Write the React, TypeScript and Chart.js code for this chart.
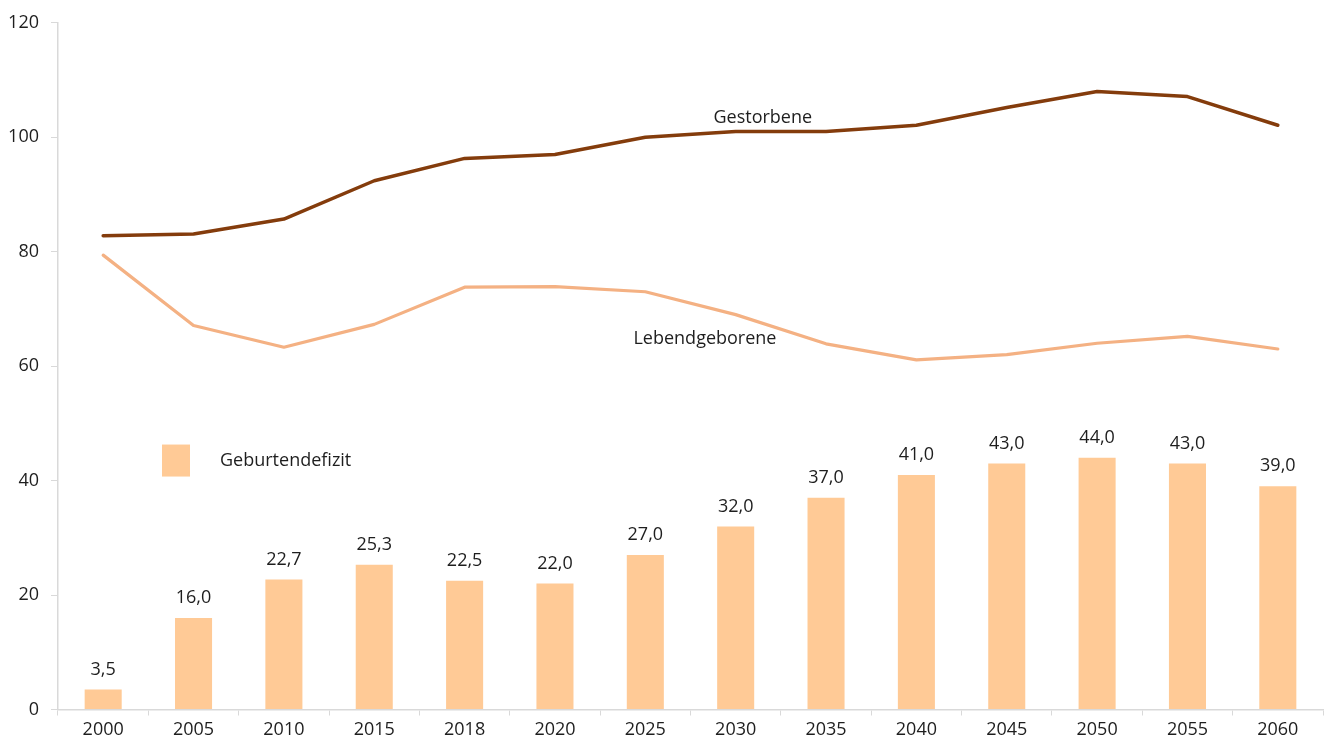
import React, { useEffect, useRef } from "react";
import { Chart, registerables } from "chart.js";

Chart.register(...registerables);

const years = ["2000", "2005", "2010", "2015", "2018", "2020", "2025", "2030", "2035", "2040", "2045", "2050", "2055", "2060"];
const gestorbene = [82.8, 83.1, 85.7, 92.4, 96.3, 97.0, 100.0, 101.0, 101.0, 102.1, 105.2, 108.0, 107.1, 102.1];
const lebendgeborene = [79.4, 67.1, 63.3, 67.3, 73.8, 73.9, 73.0, 69.0, 63.9, 61.1, 62.0, 64.0, 65.2, 63.0];
const geburtendefizit = [3.5, 16.0, 22.7, 25.3, 22.5, 22.0, 27.0, 32.0, 37.0, 41.0, 43.0, 44.0, 43.0, 39.0];
const yTicks = [0, 20, 40, 60, 80, 100, 120];

const FONT = "'Open Sans', 'Noto Sans', sans-serif";
const TEXT = "#1e1e1e";
const AXIS = "#d9d9d9";
const BAR = "#FFCA96";
const DARK = "#843C0C";
const LIGHT = "#F4B183";

const annotations = {
  id: "annotations",
  afterDatasetsDraw(chart: any) {
    const ctx = chart.ctx;
    const xs = chart.scales.x;
    const ys = chart.scales.y;
    ctx.save();
    ctx.font = `18px ${FONT}`;
    ctx.fillStyle = TEXT;
    ctx.textAlign = "center";
    ctx.textBaseline = "middle";
    // bar value labels
    const meta = chart.getDatasetMeta(0);
    meta.data.forEach((el: any, i: number) => {
      const v = geburtendefizit[i];
      ctx.fillText(v.toFixed(1).replace(".", ","), el.x, el.y - 20);
    });
    // series labels
    ctx.fillText(chart.data.datasets[1].label, xs.getPixelForValue(7.3), ys.getPixelForValue(103.3));
    ctx.fillText(chart.data.datasets[2].label, xs.getPixelForValue(6.66), ys.getPixelForValue(64.7));
    // legend
    const area = chart.chartArea;
    const lx = area.left + 104;
    const ly = ys.getPixelForValue(46.3);
    ctx.fillStyle = BAR;
    ctx.fillRect(lx, ly, 28, 32);
    ctx.fillStyle = TEXT;
    ctx.textAlign = "left";
    ctx.fillText(chart.data.datasets[0].label, lx + 58, ly + 16);
    ctx.restore();
  },
};

export default function App() {
  const ref = useRef<HTMLCanvasElement>(null);
  useEffect(() => {
    if (!ref.current) return;
    const chart = new Chart(ref.current, {
      type: "bar",
      data: {
        labels: years,
        datasets: [
          {
            type: "bar",
            label: "Geburtendefizit",
            data: geburtendefizit,
            backgroundColor: BAR,
            barPercentage: 0.41,
            categoryPercentage: 1,
            order: 3,
          },
          {
            type: "line",
            label: "Gestorbene",
            data: gestorbene,
            borderColor: DARK,
            backgroundColor: DARK,
            borderWidth: 3.5,
            pointRadius: 0,
            tension: 0,
            borderCapStyle: "round",
            borderJoinStyle: "round",
            order: 1,
          },
          {
            type: "line",
            label: "Lebendgeborene",
            data: lebendgeborene,
            borderColor: LIGHT,
            backgroundColor: LIGHT,
            borderWidth: 3.2,
            pointRadius: 0,
            tension: 0,
            borderCapStyle: "round",
            borderJoinStyle: "round",
            order: 2,
          },
        ] as any,
      },
      options: {
        animation: false,
        responsive: true,
        maintainAspectRatio: false,
        layout: { padding: { top: 16, right: 7, left: 0, bottom: 0 } },
        plugins: { legend: { display: false }, tooltip: { enabled: false } },
        scales: {
          x: {
            offset: true,
            grid: { display: true, drawOnChartArea: false, drawTicks: true, tickLength: 6, color: AXIS, offset: true },
            border: { display: true, color: AXIS, width: 1.5 },
            ticks: { color: TEXT, font: { family: FONT, size: 18 }, padding: 4, maxRotation: 0, autoSkip: false },
            afterFit: (s: any) => { s.height = 32.5; },
          },
          y: {
            min: 0,
            max: 120,
            afterBuildTicks: (s: any) => { s.ticks = yTicks.map((v) => ({ value: v })); },
            grid: { display: true, drawOnChartArea: false, drawTicks: true, tickLength: 7, color: AXIS },
            border: { display: true, color: AXIS, width: 1.5 },
            ticks: { color: TEXT, font: { family: FONT, size: 18 }, padding: 12 },
            afterFit: (s: any) => { s.width = 58; },
          },
        },
      },
      plugins: [annotations],
    });
    return () => chart.destroy();
  }, []);
  return (
    <div style={{ position: "fixed", left: 0, top: 0, width: 1330, height: 742, background: "#fff" }}>
      <canvas ref={ref} />
    </div>
  );
}
